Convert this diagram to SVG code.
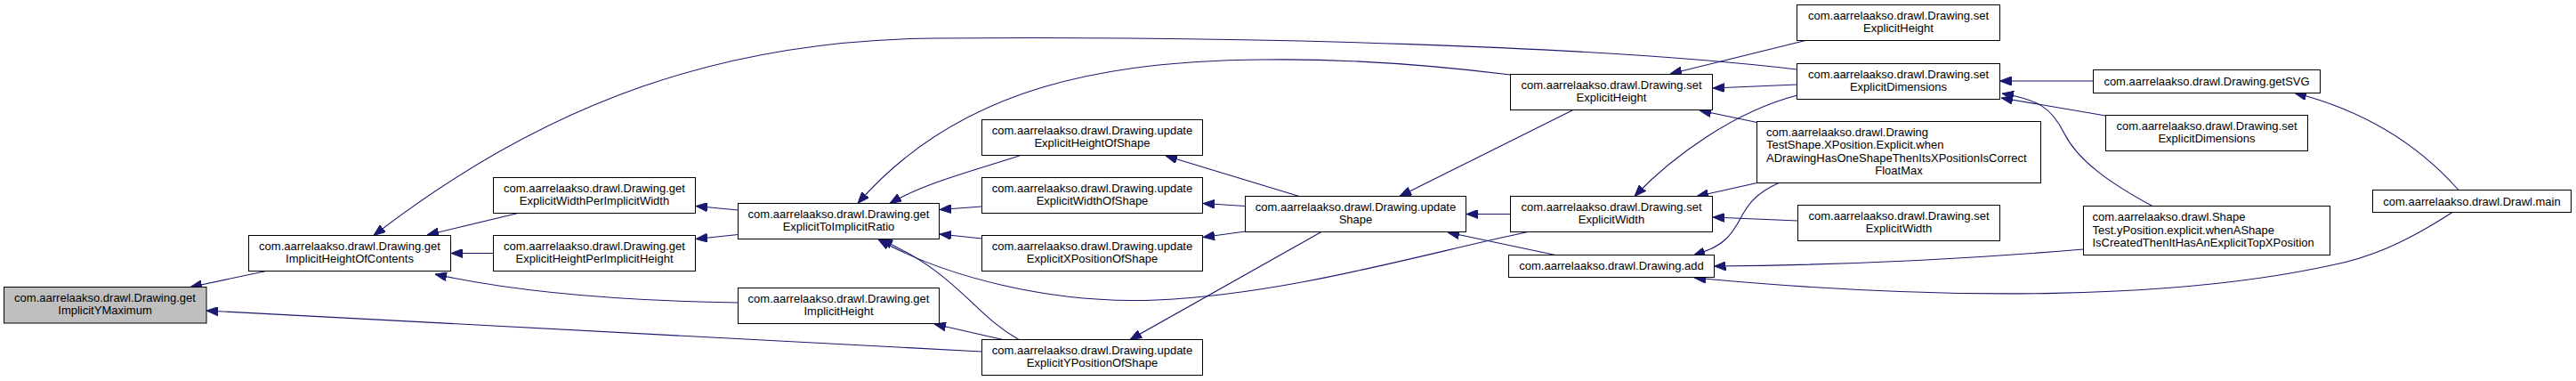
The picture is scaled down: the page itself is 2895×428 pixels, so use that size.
<svg xmlns="http://www.w3.org/2000/svg" width="2895" height="428" viewBox="0 0 2895 428">
<defs>
<marker id="ah" viewBox="0 0 13 10" refX="13" refY="5" markerWidth="13" markerHeight="10" markerUnits="userSpaceOnUse" orient="auto">
<path d="M0,0 L13,5 L0,10 z" fill="#191970" stroke="#191970" stroke-width="1"/>
</marker>
</defs>
<style>
rect.n{fill:#ffffff;stroke:#000000;stroke-width:1}
rect.g{fill:#bfbfbf;stroke:#000000;stroke-width:1}
text{font-family:"Liberation Sans",Arial,sans-serif;font-size:13px;fill:#000000}
text.c{text-anchor:middle}
#edges path{fill:none;stroke:#191970;stroke-width:1.1;marker-end:url(#ah)}
</style>
<rect width="2895" height="428" fill="#ffffff"/>
<g id="edges">
<path d="M299,304.5 L214,322.5"/>
<path d="M1103.5,395 L232,349"/>
<path d="M582,239.5 L480,264"/>
<path d="M554.5,284.5 L507,284.5"/>
<path d="M829.5,340 C700,338 580,328 489,308"/>
<path d="M2019.5,78 C1800,52 1400,40 1050,43 C820,45 620,110 420,264.5"/>
<path d="M1697.5,84 C1600,72 1500,66 1420,67 C1250,68 1080,95 964,228.5"/>
<path d="M829.5,236 L782,231.5"/>
<path d="M829.5,263.5 L782,268.5"/>
<path d="M1147,174.5 C1100,190 1040,205 1000,228.5"/>
<path d="M1103.5,232 L1056,235.5"/>
<path d="M1103.5,268 L1056,263"/>
<path d="M1145,381.5 C1090,350 1080,310 990,269"/>
<path d="M1717,260.5 C1600,285 1450,330 1300,337 C1180,342 1060,310 987,269"/>
<path d="M1460,220.5 L1310,175"/>
<path d="M1399.5,231.5 L1352,228.5"/>
<path d="M1399.5,260 L1352,266.5"/>
<path d="M1485,260.5 L1270,381.5"/>
<path d="M1127,381.5 L1050,364"/>
<path d="M1768,123.5 L1573,220.5"/>
<path d="M1697.5,240.5 L1648,240.5"/>
<path d="M1748,286.5 L1627,261"/>
<path d="M2029,45.5 L1877,83"/>
<path d="M2019.5,95 L1925,99"/>
<path d="M1974.5,137.5 L1910,124"/>
<path d="M2020,107 C1950,125 1880,175 1837,220.5"/>
<path d="M1974.5,205.5 L1907,220.5"/>
<path d="M2020.5,248 L1925,244"/>
<path d="M1999,205.5 C1955,225 1960,250 1940,268 C1930,278 1915,283 1903,287"/>
<path d="M2341.5,280 C2200,292 2050,298 1926.5,299"/>
<path d="M2756,238.5 C2700,275 2660,290 2620,298 C2450,335 2200,340 1904,312"/>
<path d="M2352.5,91 L2247.5,91"/>
<path d="M2366.5,130 L2249,110"/>
<path d="M2419,231.5 C2370,205 2335,180 2320,150 C2305,120 2290,112 2250,105"/>
<path d="M2763,213.5 C2720,165 2660,125 2579,104.5"/>
</g>
<g id="n_ymax"><rect class="g" x="4.5" y="322.5" width="227.5" height="40.5"/><text class="c" x="118" y="339">com.aarrelaakso.drawl.Drawing.get</text><text class="c" x="118" y="353">ImplicitYMaximum</text></g>
<g id="n_hoc"><rect class="n" x="279.5" y="264.5" width="227" height="40"/><text class="c" x="393" y="280.5">com.aarrelaakso.drawl.Drawing.get</text><text class="c" x="393" y="294.5">ImplicitHeightOfContents</text></g>
<g id="n_ewpiw"><rect class="n" x="554.5" y="199.5" width="227" height="40"/><text class="c" x="668" y="215.5">com.aarrelaakso.drawl.Drawing.get</text><text class="c" x="668" y="229.5">ExplicitWidthPerImplicitWidth</text></g>
<g id="n_ehpih"><rect class="n" x="554.5" y="264.5" width="227" height="40"/><text class="c" x="668" y="280.5">com.aarrelaakso.drawl.Drawing.get</text><text class="c" x="668" y="294.5">ExplicitHeightPerImplicitHeight</text></g>
<g id="n_etir"><rect class="n" x="829.5" y="228.5" width="226" height="40"/><text class="c" x="942.5" y="244.5">com.aarrelaakso.drawl.Drawing.get</text><text class="c" x="942.5" y="258.5">ExplicitToImplicitRatio</text></g>
<g id="n_gih"><rect class="n" x="829.5" y="323.5" width="226" height="40"/><text class="c" x="942.5" y="339.5">com.aarrelaakso.drawl.Drawing.get</text><text class="c" x="942.5" y="353.5">ImplicitHeight</text></g>
<g id="n_uehos"><rect class="n" x="1103.5" y="134.5" width="248" height="40"/><text class="c" x="1227.5" y="150.5">com.aarrelaakso.drawl.Drawing.update</text><text class="c" x="1227.5" y="164.5">ExplicitHeightOfShape</text></g>
<g id="n_uewos"><rect class="n" x="1103.5" y="199.5" width="248" height="40"/><text class="c" x="1227.5" y="215.5">com.aarrelaakso.drawl.Drawing.update</text><text class="c" x="1227.5" y="229.5">ExplicitWidthOfShape</text></g>
<g id="n_uexpos"><rect class="n" x="1103.5" y="264.5" width="248" height="40"/><text class="c" x="1227.5" y="280.5">com.aarrelaakso.drawl.Drawing.update</text><text class="c" x="1227.5" y="294.5">ExplicitXPositionOfShape</text></g>
<g id="n_ueypos"><rect class="n" x="1103.5" y="381.5" width="248" height="40"/><text class="c" x="1227.5" y="397.5">com.aarrelaakso.drawl.Drawing.update</text><text class="c" x="1227.5" y="411.5">ExplicitYPositionOfShape</text></g>
<g id="n_us"><rect class="n" x="1399.5" y="220.5" width="248" height="40"/><text class="c" x="1523.5" y="236.5">com.aarrelaakso.drawl.Drawing.update</text><text class="c" x="1523.5" y="250.5">Shape</text></g>
<g id="n_seh"><rect class="n" x="1697.5" y="83.5" width="227" height="40"/><text class="c" x="1811" y="99.5">com.aarrelaakso.drawl.Drawing.set</text><text class="c" x="1811" y="113.5">ExplicitHeight</text></g>
<g id="n_sew"><rect class="n" x="1697.5" y="220.5" width="227" height="40"/><text class="c" x="1811" y="236.5">com.aarrelaakso.drawl.Drawing.set</text><text class="c" x="1811" y="250.5">ExplicitWidth</text></g>
<g id="n_add"><rect class="n" x="1695.5" y="286.5" width="231" height="25"/><text class="c" x="1811" y="303">com.aarrelaakso.drawl.Drawing.add</text></g>
<g id="n_seh2"><rect class="n" x="2019.5" y="5.5" width="228" height="40"/><text class="c" x="2133.5" y="21.5">com.aarrelaakso.drawl.Drawing.set</text><text class="c" x="2133.5" y="35.5">ExplicitHeight</text></g>
<g id="n_sed"><rect class="n" x="2019.5" y="71.5" width="228" height="40"/><text class="c" x="2133.5" y="87.5">com.aarrelaakso.drawl.Drawing.set</text><text class="c" x="2133.5" y="101.5">ExplicitDimensions</text></g>
<g id="n_test"><rect class="n" x="1974.5" y="136.5" width="319" height="69"/><text x="1985" y="152.5">com.aarrelaakso.drawl.Drawing</text><text x="1985" y="167">TestShape.XPosition.Explicit.when</text><text x="1985" y="181.5">ADrawingHasOneShapeThenItsXPositionIsCorrect</text><text class="c" x="2134" y="196">FloatMax</text></g>
<g id="n_sew2"><rect class="n" x="2020.5" y="230.5" width="227" height="40"/><text class="c" x="2134" y="246.5">com.aarrelaakso.drawl.Drawing.set</text><text class="c" x="2134" y="260.5">ExplicitWidth</text></g>
<g id="n_svg"><rect class="n" x="2352.5" y="78.5" width="255" height="26"/><text class="c" x="2480" y="96">com.aarrelaakso.drawl.Drawing.getSVG</text></g>
<g id="n_sed2"><rect class="n" x="2366.5" y="129.5" width="227" height="40"/><text class="c" x="2480" y="145.5">com.aarrelaakso.drawl.Drawing.set</text><text class="c" x="2480" y="159.5">ExplicitDimensions</text></g>
<g id="n_shape"><rect class="n" x="2341.5" y="231.5" width="277" height="55"/><text x="2351.5" y="248">com.aarrelaakso.drawl.Shape</text><text x="2351.5" y="262.5">Test.yPosition.explicit.whenAShape</text><text x="2351.5" y="277">IsCreatedThenItHasAnExplicitTopXPosition</text></g>
<g id="n_main"><rect class="n" x="2666.5" y="213.5" width="223" height="25"/><text class="c" x="2778" y="230.5">com.aarrelaakso.drawl.Drawl.main</text></g>
</svg>
